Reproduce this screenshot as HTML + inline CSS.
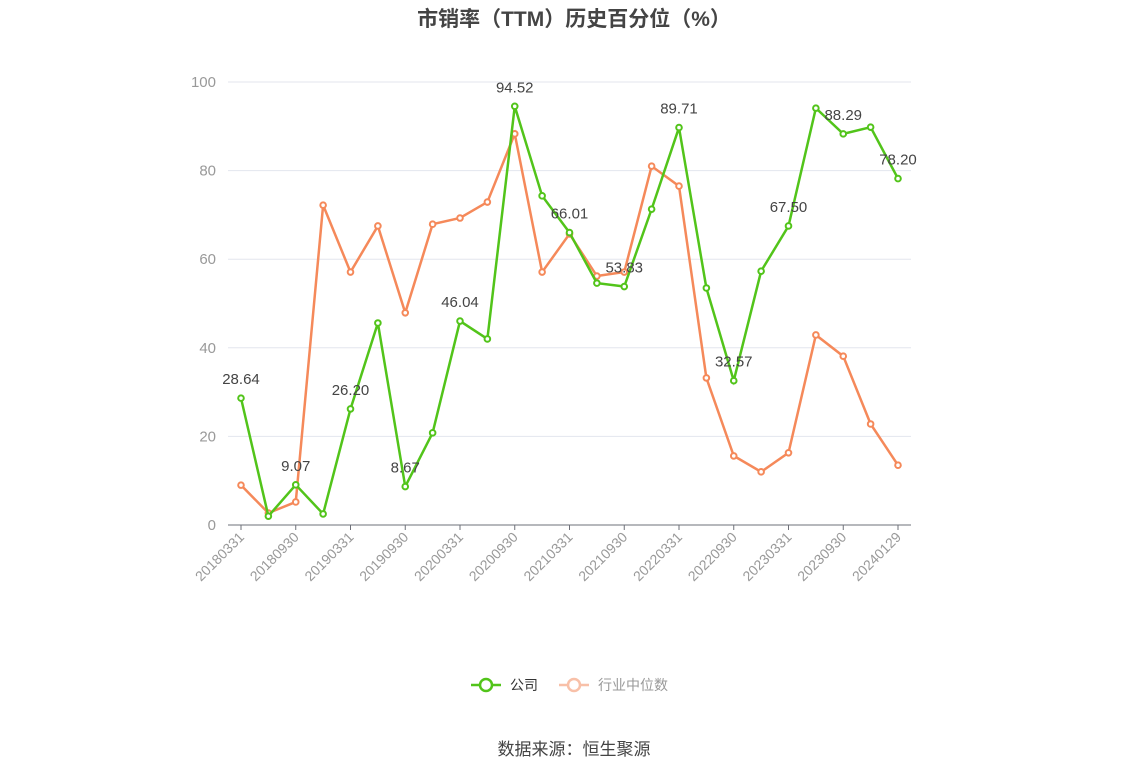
<!DOCTYPE html>
<html><head><meta charset="utf-8"><style>
body{margin:0;background:#fff;font-family:"Liberation Sans","Noto Sans CJK SC",sans-serif;}
</style></head><body>
<svg id="c" width="1148" height="776" xmlns="http://www.w3.org/2000/svg" style="font-family:'Liberation Sans','Noto Sans CJK SC',sans-serif">
<text x="574" y="26" text-anchor="middle" font-size="21" font-weight="bold" fill="#444">市销率（TTM）历史百分位（%）</text>
<g id="grid"></g><g id="xax"></g><g id="series"></g>
<g>
<g><line x1="471" y1="685" x2="501" y2="685" stroke="#52c41a" stroke-width="2.5"/><circle cx="486" cy="685" r="6" fill="#fff" stroke="#52c41a" stroke-width="2.5"/><text x="510" y="690" font-size="14" fill="#333">公司</text></g>
<g><line x1="559" y1="685" x2="589" y2="685" stroke="#f8c0a8" stroke-width="2.5"/><circle cx="574" cy="685" r="6" fill="#fff" stroke="#f8c0a8" stroke-width="2.5"/><text x="598" y="690" font-size="14" fill="#999">行业中位数</text></g>
</g>
<text x="574" y="755" text-anchor="middle" font-size="17" fill="#444">数据来源：恒生聚源</text>
</svg>
<script>
const dates=["20180331","20180630","20180930","20181231","20190331","20190630","20190930","20191231","20200331","20200630","20200930","20201231","20210331","20210630","20210930","20211231","20220331","20220630","20220930","20221231","20230331","20230630","20230930","20231231","20240129"];
const company=[28.64,2.0,9.07,2.5,26.20,45.6,8.67,20.8,46.04,42.0,94.52,74.3,66.01,54.6,53.83,71.3,89.71,53.5,32.57,57.3,67.50,94.1,88.29,89.8,78.20];
const industry=[9.0,2.7,5.2,72.2,57.1,67.5,47.9,67.9,69.3,72.9,88.3,57.1,65.7,56.2,57.1,81.0,76.5,33.2,15.6,12.0,16.3,42.9,38.1,22.8,13.5];
const yTicks=[0,20,40,60,80,100];
const NS="http://www.w3.org/2000/svg";
const x=i=>241+i*(898-241)/(dates.length-1);
const y=v=>525-v*4.43;
function mk(t,a,p){const e=document.createElementNS(NS,t);for(const k in a)e.setAttribute(k,a[k]);p.appendChild(e);return e;}
const grid=document.getElementById('grid'),xax=document.getElementById('xax'),ser=document.getElementById('series');
yTicks.forEach(t=>{
 if(t>0){const l=mk('line',{x1:228,x2:911,y1:y(t),y2:y(t),stroke:'#e3e6ee'},grid);
 
 }
 const tx=mk('text',{x:216,y:y(t)+5,'text-anchor':'end','font-size':15,fill:'#999'},grid);tx.textContent=t;
 
 
});
const ax=mk('line',{x1:228,x2:911,y1:525,y2:525,stroke:'#6e7079'},xax);


dates.forEach((d,i)=>{if(i%2)return;const xx=x(i);
 mk('line',{x1:xx,x2:xx,y1:525,y2:530,stroke:'#6e7079'},xax);
 const t=mk('text',{x:xx+4,y:538,'text-anchor':'end','font-size':14,fill:'#999',transform:`rotate(-45 ${xx+4} 538)`},xax);t.textContent=d;
 
 
});
function draw(vals,col,name,labels){
 const p=mk('polyline',{points:vals.map((v,i)=>x(i)+','+y(v)).join(' '),fill:'none',stroke:col,'stroke-width':2.5},ser);
 
 
 vals.forEach((v,i)=>{const c=mk('circle',{cx:x(i),cy:y(v),r:2.8,fill:'#fff',stroke:col,'stroke-width':2},ser);
  
  });
 if(labels)vals.forEach((v,i)=>{if(i%2)return;const t=mk('text',{x:x(i),y:y(v)-14,'text-anchor':'middle','font-size':15,fill:'#444'},ser);t.textContent=v.toFixed(2);
  
  });
}
draw(industry,'#f5895a','industry-median',false);
draw(company,'#52c41a','company',true);
</script>
</body></html>
